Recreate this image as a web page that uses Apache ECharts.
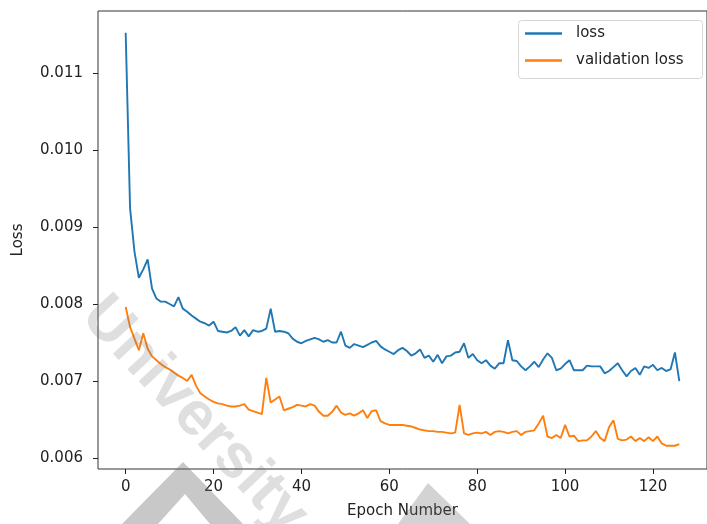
<!DOCTYPE html>
<html>
<head>
<meta charset="utf-8">
<script src="https://cdn.jsdelivr.net/npm/echarts@6/dist/echarts.min.js"></script>
<style>
  html, body { margin: 0; padding: 0; background: #fff; }
  #chart { width: 707px; height: 524px; }
</style>
</head>
<body>
<div id="chart"></div>
<script>
// ---- data ----
const epochs = Array.from({length: 127}, (_, i) => i);
const lossValues = [
  0.01152,0.00924,0.00868,0.00834,0.00845,0.00858,0.00820,0.00807,0.00803,0.00803,
  0.00800,0.00797,0.00809,0.00794,0.00790,0.00785,0.00781,0.00777,0.00775,0.00772,
  0.00777,0.00765,0.00764,0.00763,0.00765,0.00770,0.00759,0.00766,0.00758,0.00766,
  0.00764,0.00765,0.00768,0.00794,0.00764,0.00765,0.00764,0.00762,0.00755,0.00751,
  0.00749,0.00752,0.00754,0.00756,0.00754,0.00751,0.00753,0.00750,0.00750,0.00764,
  0.00746,0.00743,0.00748,0.00746,0.00744,0.00747,0.00750,0.00752,0.00745,0.00741,
  0.00738,0.00735,0.00740,0.00743,0.00739,0.00733,0.00736,0.00741,0.00730,0.00733,
  0.00725,0.00734,0.00723,0.00732,0.00733,0.00737,0.00738,0.00749,0.00730,0.00735,
  0.00727,0.00723,0.00727,0.00720,0.00716,0.00723,0.00723,0.00753,0.00727,0.00726,
  0.00719,0.00714,0.00719,0.00725,0.00718,0.00728,0.00736,0.00730,0.00714,0.00716,
  0.00722,0.00727,0.00714,0.00714,0.00714,0.00720,0.00719,0.00719,0.00719,0.00710,
  0.00713,0.00718,0.00723,0.00714,0.00706,0.00713,0.00717,0.00708,0.00719,0.00717,
  0.00721,0.00714,0.00717,0.00713,0.00715,0.00737,0.00700
];
const valLossValues = [
  0.00796,0.00770,0.00755,0.00740,0.00762,0.00742,0.00732,0.00727,0.00722,0.00718,
  0.00715,0.00711,0.00707,0.00704,0.00700,0.00708,0.00694,0.00684,0.00680,0.00676,
  0.00673,0.00671,0.00670,0.00668,0.00667,0.00667,0.00668,0.00670,0.00663,0.00661,
  0.00659,0.00657,0.00704,0.00672,0.00676,0.00680,0.00662,0.00664,0.00666,0.00669,
  0.00668,0.00667,0.00670,0.00668,0.00660,0.00655,0.00655,0.00660,0.00668,0.00659,
  0.00656,0.00658,0.00655,0.00658,0.00662,0.00652,0.00661,0.00662,0.00648,0.00645,
  0.00643,0.00643,0.00643,0.00643,0.00642,0.00641,0.00639,0.00637,0.00636,0.00635,
  0.00635,0.00634,0.00634,0.00633,0.00632,0.00633,0.00669,0.00632,0.00630,0.00632,
  0.00633,0.00632,0.00634,0.00630,0.00634,0.00635,0.00634,0.00632,0.00634,0.00635,
  0.00630,0.00634,0.00635,0.00636,0.00645,0.00655,0.00628,0.00626,0.00630,0.00626,
  0.00643,0.00628,0.00629,0.00622,0.00623,0.00623,0.00628,0.00635,0.00626,0.00622,
  0.00640,0.00649,0.00625,0.00623,0.00624,0.00628,0.00622,0.00626,0.00622,0.00627,
  0.00622,0.00628,0.00619,0.00616,0.00616,0.00616,0.00618
];
const xTicks = [0, 20, 40, 60, 80, 100, 120];
const yTicks = [0.006, 0.007, 0.008, 0.009, 0.010, 0.011];
const seriesNames = ['loss', 'validation loss'];
const xLabel = 'Epoch Number';
const yLabel = 'Loss';
const watermarkText = 'University';

// ---- chart ----
const chart = echarts.init(document.getElementById('chart'), null, {renderer: 'canvas'});
const FONT = 'DejaVu Sans';
const axisColor = '#222';
const toPairs = arr => arr.map((v, i) => [epochs[i], v]);
const deg = Math.PI / 180;

const option = {
  backgroundColor: '#ffffff',
  animation: false,
  grid: {
    left: 98, top: 11, width: 617, height: 460,
    show: true, borderColor: '#333', borderWidth: 1, backgroundColor: 'transparent'
  },
  legend: {
    orient: 'vertical',
    left: 525, top: 25,
    padding: 0,
    itemWidth: 37, itemHeight: 2.5, itemGap: 10,
    icon: 'rect',
    data: seriesNames,
    textStyle: {fontFamily: FONT, fontSize: 15, lineHeight: 17, color: '#222', padding: [0, 0, 0, 9]}
  },
  xAxis: {
    type: 'value', min: -6.3, max: 132.3,
    name: xLabel, nameLocation: 'middle', nameGap: 35,
    nameTextStyle: {fontFamily: FONT, fontSize: 15, color: '#222'},
    axisLine: {show: false, onZero: false},
    splitLine: {show: false},
    axisTick: {show: true, length: 5, inside: false, customValues: xTicks, lineStyle: {color: axisColor}},
    axisLabel: {customValues: xTicks, margin: 11, fontFamily: FONT, fontSize: 15, color: '#222'}
  },
  yAxis: {
    type: 'value', min: 0.005858, max: 0.011803,
    name: yLabel, nameLocation: 'middle', nameGap: 72, nameRotate: 90,
    nameTextStyle: {fontFamily: FONT, fontSize: 15, color: '#222'},
    axisLine: {show: false, onZero: false},
    splitLine: {show: false},
    axisTick: {show: true, length: 5, inside: false, customValues: yTicks, lineStyle: {color: axisColor}},
    axisLabel: {customValues: yTicks, margin: 15, fontFamily: FONT, fontSize: 15, color: '#222',
      formatter: v => v.toFixed(3)}
  },
  series: [
    {name: seriesNames[0], type: 'line', data: toPairs(lossValues), showSymbol: false,
     lineStyle: {width: 1.9, color: '#1f77b4'}, itemStyle: {color: '#1f77b4'}, z: 3},
    {name: seriesNames[1], type: 'line', data: toPairs(valLossValues), showSymbol: false,
     lineStyle: {width: 1.9, color: '#ff7f0e'}, itemStyle: {color: '#ff7f0e'}, z: 2}
  ],
  graphic: [
    {type: 'rect', left: 518, top: 20, shape: {width: 184, height: 58, r: 3},
     style: {fill: 'rgba(255,255,255,0.8)', stroke: '#d6d6d6', lineWidth: 1}, z: 0},
    {type: 'polygon', shape: {points: [[122,524],[183,462],[243,524],[210,524],[185,494],[158,524]]},
     style: {fill: 'rgba(110,110,110,0.38)'}, z: 100},
    {type: 'polygon', shape: {points: [[398,524],[428,483],[470,524]]},
     style: {fill: 'rgba(110,110,110,0.3)'}, z: 100},
    {type: 'text', x: 92, y: 306, rotation: -47 * deg,
     style: {text: watermarkText, fontFamily: 'Liberation Sans', fontWeight: 'bold', fontSize: 62,
       fill: 'rgba(120,120,120,0.24)', textAlign: 'left', textVerticalAlign: 'middle'}, z: 100}
  ]
};
chart.setOption(option);
</script>
</body>
</html>
